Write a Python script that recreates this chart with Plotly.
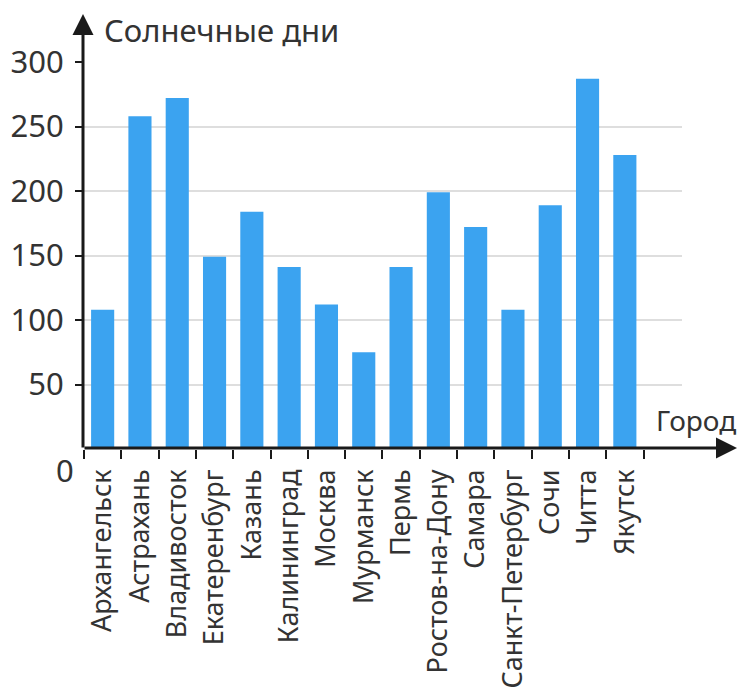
import plotly.graph_objects as go

cities = ["Архангельск", "Астрахань", "Владивосток", "Екатеренбург", "Казань",
          "Калининград", "Москва", "Мурманск", "Пермь", "Ростов-на-Дону",
          "Самара", "Санкт-Петербург", "Сочи", "Читта", "Якутск"]
sunny_days = [108, 258, 272, 149, 184, 141, 112, 75, 141, 199, 172, 108, 189, 287, 228]
y_ticks = [50, 100, 150, 200, 250, 300]
y_title = "Солнечные дни"
x_title = "Город"

FONT = "Noto Sans"
TXT = "#333333"
AX = "#1a1a1a"

# plot area in pixels
L, R, T, B = 84, 682, 62, 449
W, H = R - L, B - T

def px(x):
    return (x - L) / W

def py(y):
    return (B - y) / H

fig = go.Figure(go.Bar(x=cities, y=sunny_days, marker_color="#3ba3f0",
                       marker_line_width=0, width=0.62))

fig.update_layout(
    width=739, height=696,
    margin=dict(l=L, r=739 - R, t=T, b=696 - B),
    plot_bgcolor="white", paper_bgcolor="white",
    showlegend=False,
    font=dict(family=FONT, color=TXT),
    xaxis=dict(
        range=[-0.5, -0.5 + W / 37.3], automargin=False,
        tickson="boundaries", ticks="outside", ticklen=9, tickwidth=2, tickcolor=AX,
        tickangle=-90, tickfont=dict(size=27, family=FONT, color=TXT),
        showgrid=False, showline=False, zeroline=False, ticklabelstandoff=14,
    ),
    yaxis=dict(
        range=[0, 300], tickvals=y_ticks, ticks="outside", ticklen=8, tickwidth=2,
        automargin=False,
        tickcolor=AX, tickfont=dict(size=31, family=FONT, color=TXT),
        showgrid=True, gridcolor="#dedede", gridwidth=2,
        showline=False, zeroline=False, ticklabelstandoff=5,
    ),
)

fig.add_annotation(x=px(737), y=py(448), xref="paper", yref="paper",
                   ax=-(737 - 83), ay=0, text="", showarrow=True,
                   arrowhead=2, arrowsize=1.4, arrowwidth=3, arrowcolor=AX, standoff=0)
fig.add_annotation(x=px(83), y=py(14), xref="paper", yref="paper",
                   ax=0, ay=(449 - 14), text="", showarrow=True,
                   arrowhead=2, arrowsize=1.4, arrowwidth=3, arrowcolor=AX, standoff=0)

fig.add_annotation(x=px(102), y=py(30), xref="paper", yref="paper",
                   text=y_title, showarrow=False, xanchor="left", yanchor="middle",
                   font=dict(size=31, family=FONT, color=TXT))
fig.add_annotation(x=px(738), y=py(420), xref="paper", yref="paper",
                   text=x_title, showarrow=False, xanchor="right", yanchor="middle",
                   font=dict(size=28, family=FONT, color=TXT))
fig.add_annotation(x=px(65), y=py(470), xref="paper", yref="paper",
                   text="0", showarrow=False, xanchor="center", yanchor="middle",
                   font=dict(size=31, family=FONT, color=TXT))

fig.write_html("out.html", config={"displayModeBar": False},
               post_script="document.body.style.margin='0';")
